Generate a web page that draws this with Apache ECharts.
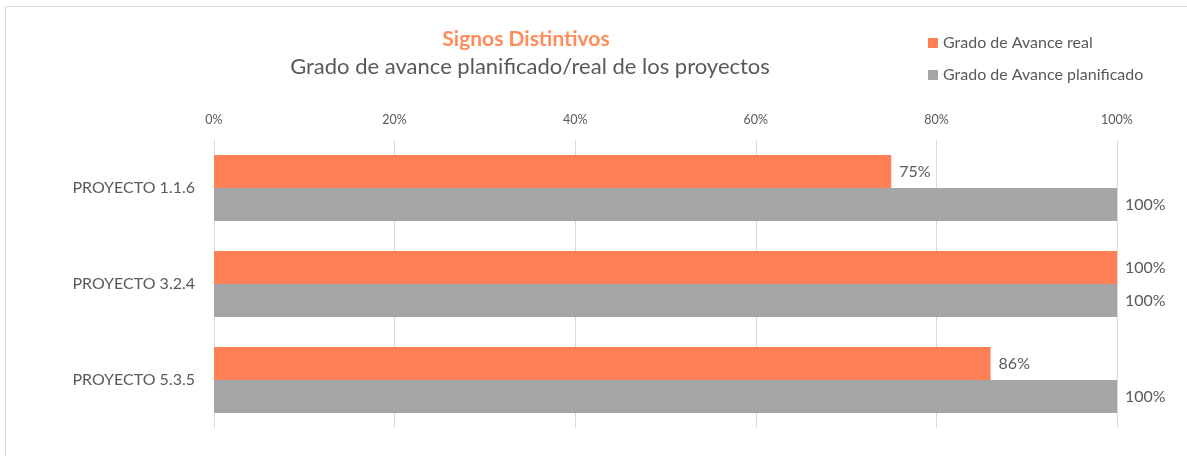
<!DOCTYPE html>
<html>
<head>
<meta charset="utf-8">
<script src="https://cdn.jsdelivr.net/npm/echarts@6/dist/echarts.min.js"></script>
<style>
html,body{margin:0;padding:0;background:#fff;}
#c{width:1187px;height:456px;}
</style>
</head>
<body>
<div id="c"></div>
<script>
var categories = ['PROYECTO 1.1.6', 'PROYECTO 3.2.4', 'PROYECTO 5.3.5'];
var realValues = [0.75, 1.00, 0.86];
var planValues = [1.00, 1.00, 1.00];
var seriesNames = ['Grado de Avance real', 'Grado de Avance planificado'];
var tickMin = 0, tickMax = 1, tickStep = 0.2;

var FONT = 'Lato, "Open Sans", sans-serif';
var TXT = '#595959';
var chart = echarts.init(document.getElementById('c'), null, {renderer: 'canvas'});
function pct(v){ return Math.round(v * 100) + '%'; }
chart.setOption({
  animation: false,
  textStyle: {fontFamily: FONT},
  title: [{
    text: 'Signos Distintivos',
    left: 521, top: 24, textAlign: 'center',
    textStyle: {color: '#FF8C5A', fontSize: 21, fontWeight: 'bold', fontFamily: FONT}
  }, {
    text: 'Grado de avance planificado/real de los proyectos',
    left: 525, top: 51, textAlign: 'center',
    textStyle: {color: TXT, fontSize: 22, fontWeight: 'normal', fontFamily: FONT}
  }],
  legend: {
    orient: 'vertical', left: 923, top: 30, itemGap: 16,
    itemWidth: 10, itemHeight: 10, itemTextGap: 6, icon: 'rect',
    textStyle: {color: TXT, fontSize: 16, fontFamily: FONT},
    data: seriesNames
  },
  grid: {left: 214, right: 70, top: 140, height: 288, containLabel: false},
  xAxis: {
    type: 'value', position: 'top', min: tickMin, max: tickMax, interval: tickStep,
    axisLine: {show: false}, axisTick: {show: false},
    axisLabel: {color: TXT, fontSize: 12.5, margin: 14, formatter: function(v){ return pct(v); }},
    splitLine: {lineStyle: {color: '#D9D9D9', width: 1}}
  },
  yAxis: {
    type: 'category', inverse: true, data: categories,
    axisLine: {show: false}, axisTick: {show: false},
    axisLabel: {color: TXT, fontSize: 16, margin: 19}
  },
  graphic: [{
    type: 'polyline', silent: true,
    shape: {points: [[5.5, 470], [5.5, 6.5], [1200, 6.5]]},
    style: {stroke: '#D9D9D9', lineWidth: 1, fill: null}
  }],
  series: [{
    name: seriesNames[0], type: 'bar', data: realValues,
    barWidth: 33, barGap: '0%',
    itemStyle: {color: '#FF7F57'},
    label: {show: true, position: 'right', distance: 8, color: TXT, fontSize: 16, formatter: function(p){ return pct(p.value); }}
  }, {
    name: seriesNames[1], type: 'bar', data: planValues,
    barWidth: 33, barGap: '0%',
    itemStyle: {color: '#A5A5A5'},
    label: {show: true, position: 'right', distance: 8, color: TXT, fontSize: 16, formatter: function(p){ return pct(p.value); }}
  }]
});
</script>
</body>
</html>
